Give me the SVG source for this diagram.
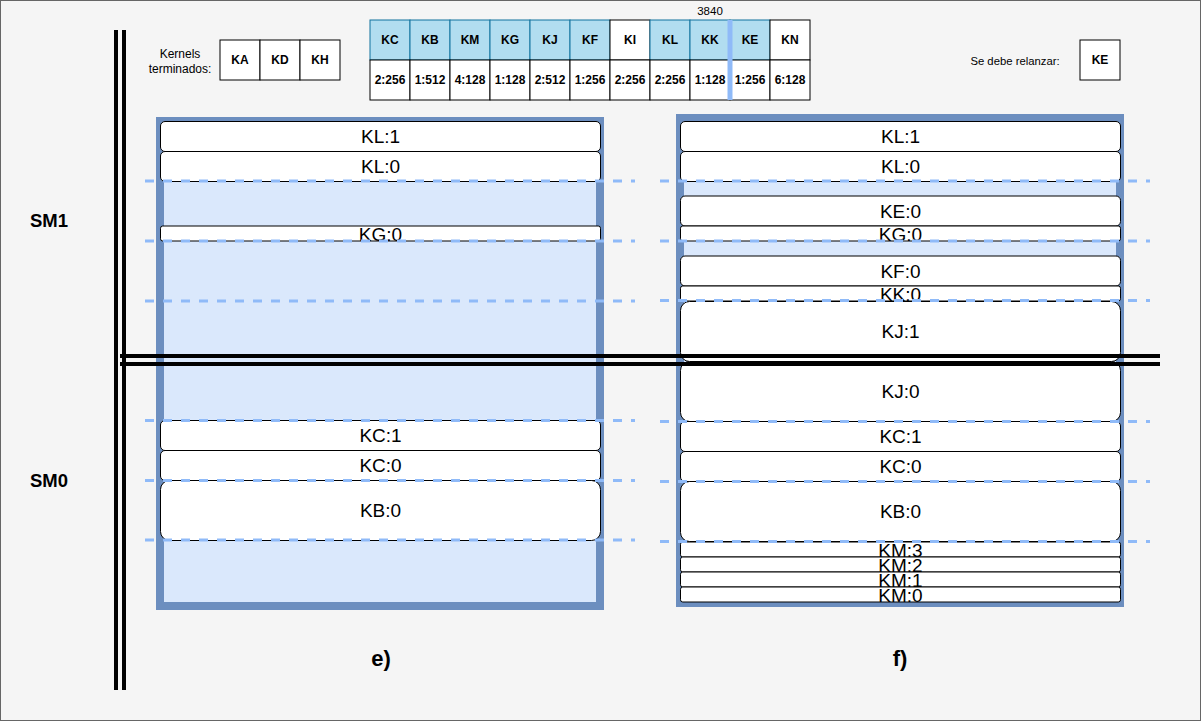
<svg xmlns="http://www.w3.org/2000/svg" width="1201" height="721" viewBox="0 0 1201 721">
<style>
.t{font-family:"Liberation Sans",Arial,sans-serif;fill:#000}
.box{fill:#fff;stroke:#000;stroke-width:1}
.cont{fill:#dae8fc;stroke:#6c8ebf;stroke-width:8}
.lbl{font-size:19px;text-anchor:middle;dominant-baseline:central}
.tb{font-size:12px;font-weight:bold;text-anchor:middle;dominant-baseline:central}
.hd{fill:#b1ddf0;stroke:#10739e;stroke-width:1}
.hw{fill:#fff;stroke:#000;stroke-width:1}
.cell{fill:#fff;stroke:#000;stroke-width:1}
.dash{stroke:#8fbaf8;stroke-width:3;stroke-dasharray:9 9;fill:none}
.blk{stroke:#000;stroke-width:4;fill:none}
</style>
<rect x="0.5" y="0.5" width="1200" height="720" fill="#f5f5f5" stroke="#666"/>

<g id="finished">
<text class="t" x="180" y="54" font-size="12" text-anchor="middle" dominant-baseline="central">Kernels</text>
<text class="t" x="180" y="69" font-size="12" text-anchor="middle" dominant-baseline="central">terminados:</text>
<rect class="cell" x="220" y="40" width="40" height="40"/><text class="t tb" x="240" y="60">KA</text>
<rect class="cell" x="260" y="40" width="40" height="40"/><text class="t tb" x="280" y="60">KD</text>
<rect class="cell" x="300" y="40" width="40" height="40"/><text class="t tb" x="320" y="60">KH</text>
</g>

<g id="relaunch">
<text class="t" x="1015" y="61" font-size="11.3" text-anchor="middle" dominant-baseline="central">Se debe relanzar:</text>
<rect class="cell" x="1080" y="40" width="40" height="40"/><text class="t tb" x="1100" y="60">KE</text>
</g>

<g id="queue">
<rect class="hd" x="370" y="20" width="40" height="40"/><text class="t tb" x="390" y="40">KC</text>
<rect class="hd" x="410" y="20" width="40" height="40"/><text class="t tb" x="430" y="40">KB</text>
<rect class="hd" x="450" y="20" width="40" height="40"/><text class="t tb" x="470" y="40">KM</text>
<rect class="hd" x="490" y="20" width="40" height="40"/><text class="t tb" x="510" y="40">KG</text>
<rect class="hd" x="530" y="20" width="40" height="40"/><text class="t tb" x="550" y="40">KJ</text>
<rect class="hd" x="570" y="20" width="40" height="40"/><text class="t tb" x="590" y="40">KF</text>
<rect class="hw" x="610" y="20" width="40" height="40"/><text class="t tb" x="630" y="40">KI</text>
<rect class="hd" x="650" y="20" width="40" height="40"/><text class="t tb" x="670" y="40">KL</text>
<rect class="hd" x="690" y="20" width="40" height="40"/><text class="t tb" x="710" y="40">KK</text>
<rect class="hd" x="730" y="20" width="40" height="40"/><text class="t tb" x="750" y="40">KE</text>
<rect class="hw" x="770" y="20" width="40" height="40"/><text class="t tb" x="790" y="40">KN</text>
<rect class="cell" x="370" y="60" width="40" height="40"/><text class="t tb" x="390" y="80">2:256</text>
<rect class="cell" x="410" y="60" width="40" height="40"/><text class="t tb" x="430" y="80">1:512</text>
<rect class="cell" x="450" y="60" width="40" height="40"/><text class="t tb" x="470" y="80">4:128</text>
<rect class="cell" x="490" y="60" width="40" height="40"/><text class="t tb" x="510" y="80">1:128</text>
<rect class="cell" x="530" y="60" width="40" height="40"/><text class="t tb" x="550" y="80">2:512</text>
<rect class="cell" x="570" y="60" width="40" height="40"/><text class="t tb" x="590" y="80">1:256</text>
<rect class="cell" x="610" y="60" width="40" height="40"/><text class="t tb" x="630" y="80">2:256</text>
<rect class="cell" x="650" y="60" width="40" height="40"/><text class="t tb" x="670" y="80">2:256</text>
<rect class="cell" x="690" y="60" width="40" height="40"/><text class="t tb" x="710" y="80">1:128</text>
<rect class="cell" x="730" y="60" width="40" height="40"/><text class="t tb" x="750" y="80">1:256</text>
<rect class="cell" x="770" y="60" width="40" height="40"/><text class="t tb" x="790" y="80">6:128</text>
<line x1="730" y1="20" x2="730" y2="100" stroke="#8fbaf8" stroke-width="5"/>
<text class="t" x="710" y="11" font-size="11.5" text-anchor="middle" dominant-baseline="central">3840</text>
</g>

<g id="labels">
<text class="t" x="49" y="220" font-size="18.5" font-weight="bold" text-anchor="middle" dominant-baseline="central">SM1</text>
<text class="t" x="49" y="480" font-size="18.5" font-weight="bold" text-anchor="middle" dominant-baseline="central">SM0</text>
<text class="t" x="381" y="658" font-size="22" font-weight="bold" text-anchor="middle" dominant-baseline="central">e)</text>
<text class="t" x="900" y="658" font-size="22" font-weight="bold" text-anchor="middle" dominant-baseline="central">f)</text>
</g>

<g id="panel-e">
<rect class="cont" x="160" y="121" width="440" height="485"/>
<rect class="box" x="160.5" y="121.5" width="440" height="30" rx="4.5"/><text class="t lbl" x="380.5" y="136.5">KL:1</text>
<rect class="box" x="160.5" y="151.5" width="440" height="30" rx="4.5"/><text class="t lbl" x="380.5" y="166.5">KL:0</text>
<rect class="box" x="160.5" y="226" width="440" height="15" rx="2.25"/><text class="t lbl" x="380.5" y="234">KG:0</text>
<rect class="box" x="160.5" y="420.5" width="440" height="30" rx="4.5"/><text class="t lbl" x="380.5" y="435.5">KC:1</text>
<rect class="box" x="160.5" y="450.5" width="440" height="30" rx="4.5"/><text class="t lbl" x="380.5" y="465.5">KC:0</text>
<rect class="box" x="160.5" y="480.5" width="440" height="60" rx="9"/><text class="t lbl" x="380.5" y="510.5">KB:0</text>
</g>

<g id="panel-f">
<rect class="cont" x="680" y="118" width="440" height="485"/>
<rect class="box" x="680.5" y="121.5" width="440" height="30" rx="4.5"/><text class="t lbl" x="900.5" y="136.5">KL:1</text>
<rect class="box" x="680.5" y="151.5" width="440" height="30" rx="4.5"/><text class="t lbl" x="900.5" y="166.5">KL:0</text>
<rect class="box" x="680.5" y="196" width="440" height="30" rx="4.5"/><text class="t lbl" x="900.5" y="211">KE:0</text>
<rect class="box" x="680.5" y="226" width="440" height="15" rx="2.25"/><text class="t lbl" x="900.5" y="234">KG:0</text>
<rect class="box" x="680.5" y="256" width="440" height="30" rx="4.5"/><text class="t lbl" x="900.5" y="271">KF:0</text>
<rect class="box" x="680.5" y="286" width="440" height="15" rx="2.25"/><text class="t lbl" x="900.5" y="294">KK:0</text>
<rect class="box" x="680.5" y="301.5" width="440" height="60" rx="9"/><text class="t lbl" x="900.5" y="331.5">KJ:1</text>
<rect class="box" x="680.5" y="361.5" width="440" height="60" rx="9"/><text class="t lbl" x="900.5" y="391.5">KJ:0</text>
<rect class="box" x="680.5" y="421.5" width="440" height="30" rx="4.5"/><text class="t lbl" x="900.5" y="436.5">KC:1</text>
<rect class="box" x="680.5" y="451.5" width="440" height="30" rx="4.5"/><text class="t lbl" x="900.5" y="466.5">KC:0</text>
<rect class="box" x="680.5" y="481.5" width="440" height="60" rx="9"/><text class="t lbl" x="900.5" y="511.5">KB:0</text>
<rect class="box" x="680.5" y="542" width="440" height="15" rx="2.25" stroke="#333"/><text class="t lbl" x="900.5" y="550">KM:3</text>
<rect class="box" x="680.5" y="557" width="440" height="15" rx="2.25" stroke="#333"/><text class="t lbl" x="900.5" y="565">KM:2</text>
<rect class="box" x="680.5" y="572" width="440" height="15" rx="2.25" stroke="#333"/><text class="t lbl" x="900.5" y="580">KM:1</text>
<rect class="box" x="680.5" y="587" width="440" height="15" rx="2.25" stroke="#333"/><text class="t lbl" x="900.5" y="595">KM:0</text>
</g>

<g id="connectors">
<line class="dash" x1="145" y1="181" x2="635" y2="181"/>
<line class="dash" x1="145" y1="241" x2="635" y2="241"/>
<line class="dash" x1="145" y1="301" x2="635" y2="301"/>
<line class="dash" x1="145" y1="420.5" x2="635" y2="420.5"/>
<line class="dash" x1="145" y1="480.5" x2="635" y2="480.5"/>
<line class="dash" x1="145" y1="540" x2="635" y2="540"/>
<line class="dash" x1="660" y1="181" x2="1150" y2="181"/>
<line class="dash" x1="660" y1="241" x2="1150" y2="241"/>
<line class="dash" x1="660" y1="300.5" x2="1150" y2="300.5"/>
<line class="dash" x1="660" y1="421.5" x2="1150" y2="421.5"/>
<line class="dash" x1="660" y1="481.5" x2="1150" y2="481.5"/>
<line class="dash" x1="660" y1="541.5" x2="1150" y2="541.5"/>
<line class="blk" x1="116" y1="30" x2="116" y2="690"/>
<line class="blk" x1="124" y1="30" x2="124" y2="690"/>
<line class="blk" x1="120" y1="356" x2="1160" y2="356"/>
<line class="blk" x1="120" y1="364" x2="1160" y2="364"/>
</g>
</svg>
